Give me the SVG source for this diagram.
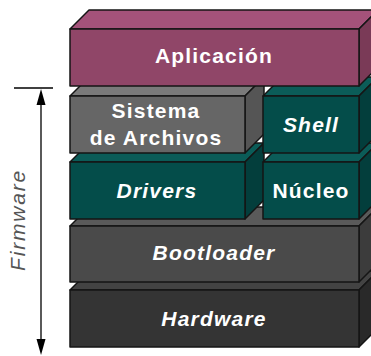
<svg xmlns="http://www.w3.org/2000/svg" width="371" height="356" viewBox="0 0 371 356">
<style>
.e{stroke:#151515;stroke-width:1.5;stroke-linejoin:round}
.lbl{font-family:"Liberation Sans",Arial,sans-serif;font-weight:bold;font-size:21px;fill:#ffffff;text-anchor:middle;letter-spacing:1.2px}
.it{font-style:italic}
.mag .f{fill:#904668}.mag .t{fill:#a4527a}.mag .r{fill:#7a3a57}
.gry .f{fill:#666666}.gry .t{fill:#7a7a7a}.gry .r{fill:#555555}
.tea .f{fill:#044d4a}.tea .t{fill:#0b5c58}.tea .r{fill:#033e3c}
.bl .f{fill:#4a4a4a}.bl .t{fill:#5a5a5a}.bl .r{fill:#3c3c3c}
.hw .f{fill:#343434}.hw .t{fill:#434343}.hw .r{fill:#292929}
</style>
<rect width="371" height="356" fill="#ffffff"/>
<g id="hardware" class="hw">
<polygon class="e t" points="70,290 89,271 378,271 359,290"/>
<polygon class="e r" points="359,290 378,271 378,328 359,347"/>
<rect class="e f" x="70" y="290" width="289" height="57"/>
<text class="lbl it" x="214" y="326">Hardware</text>
</g>
<g id="bootloader" class="bl">
<polygon class="e t" points="70,226 89,207 378,207 359,226"/>
<polygon class="e r" points="359,226 378,207 378,263 359,282"/>
<rect class="e f" x="70" y="226" width="289" height="56"/>
<text class="lbl it" x="214" y="260">Bootloader</text>
</g>
<g id="drivers" class="tea">
<polygon class="e t" points="70,162 89,143 264,143 245,162"/>
<polygon class="e r" points="245,162 264,143 264,200 245,219"/>
<rect class="e f" x="70" y="162" width="175" height="57"/>
<text class="lbl it" x="157" y="198">Drivers</text>
</g>
<g id="nucleo" class="tea">
<polygon class="e t" points="263,162 282,143 378,143 359,162"/>
<polygon class="e r" points="359,162 378,143 378,200 359,219"/>
<rect class="e f" x="263" y="162" width="96" height="57"/>
<text class="lbl" x="311" y="198">Núcleo</text>
</g>
<g id="sistema" class="gry">
<polygon class="e t" points="70,96 89,77 264,77 245,96"/>
<polygon class="e r" points="245,96 264,77 264,134 245,153"/>
<rect class="e f" x="70" y="96" width="175" height="57"/>
<text class="lbl" x="156" y="118">Sistema</text>
<text class="lbl" x="156" y="145">de Archivos</text>
</g>
<g id="shell" class="tea">
<polygon class="e t" points="263,96 282,77 378,77 359,96"/>
<polygon class="e r" points="359,96 378,77 378,134 359,153"/>
<rect class="e f" x="263" y="96" width="96" height="57"/>
<text class="lbl it" x="311" y="132">Shell</text>
</g>
<g id="aplicacion" class="mag">
<polygon class="e t" points="70,29 89,10 378,10 359,29"/>
<polygon class="e r" points="359,29 378,10 378,67 359,86"/>
<rect class="e f" x="70" y="29" width="289" height="57"/>
<text class="lbl" x="214" y="63">Aplicación</text>
</g>
<g id="connectors">
<line x1="14" y1="88" x2="53" y2="88" stroke="#000" stroke-width="1.3"/>
<line x1="41" y1="100" x2="41" y2="342" stroke="#000" stroke-width="1.3"/>
<polygon points="41,89 36.5,105 45.5,105" fill="#000"/>
<polygon points="41,355 36.5,339 45.5,339" fill="#000"/>
</g>
<g id="firmware">
<text x="0" y="0" transform="translate(25,220) rotate(-90)" font-family="'Liberation Sans',Arial,sans-serif" font-style="italic" font-size="21" fill="#555555" text-anchor="middle" letter-spacing="1.8">Firmware</text>
</g>
</svg>
